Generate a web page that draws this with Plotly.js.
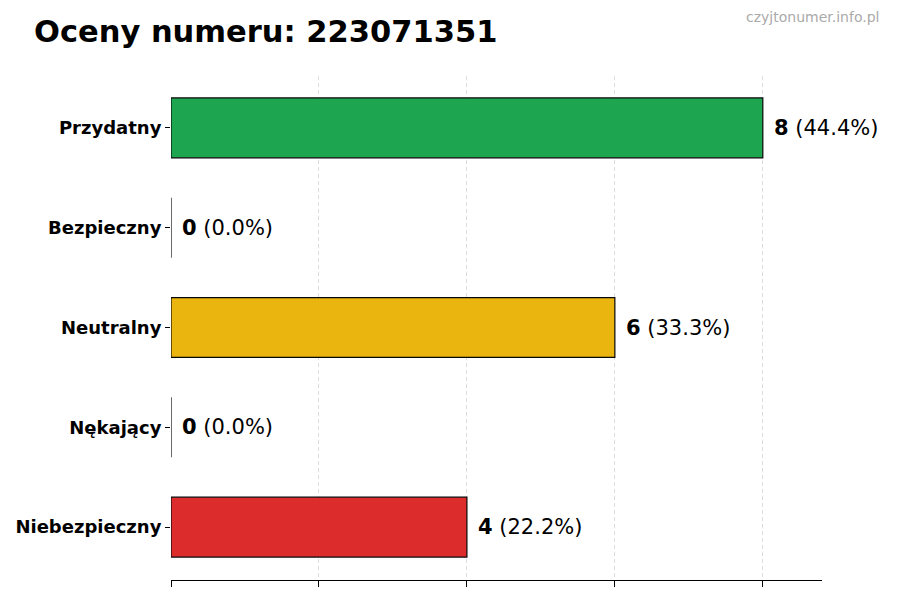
<!DOCTYPE html>
<html>
<head>
<meta charset="utf-8">
<script src="https://cdn.plot.ly/plotly-3.0.1.min.js"></script>
<style>html,body{margin:0;padding:0;background:#fff;}#chart{width:900px;height:600px;}</style>
</head>
<body>
<div id="chart"></div>
<script>
const categories = ["Przydatny", "Bezpieczny", "Neutralny", "Nękający", "Niebezpieczny"];
const counts = [8, 0, 6, 0, 4];
const percents = ["44.4%", "0.0%", "33.3%", "0.0%", "22.2%"];
const colors = ["#16a34a", "#22c55e", "#eab308", "#f97316", "#dc2626"];
const titleText = "Oceny numeru: 223071351";
const watermark = "czyjtonumer.info.pl";

const font = "DejaVu Sans, sans-serif";

const trace = {
  type: "bar",
  orientation: "h",
  x: counts,
  y: categories,
  width: 0.6,
  marker: { color: colors, opacity: 0.97, line: { color: "#000", width: 1.2 } },
  hoverinfo: "skip"
};

const annotations = categories.map((c, i) => ({
  x: counts[i], y: c, xref: "x", yref: "y",
  text: "<b>" + counts[i] + "</b> (" + percents[i] + ")",
  showarrow: false, xanchor: "left", yanchor: "middle", xshift: 9,
  font: { family: font, size: 21, color: "#000" }
}));
const W = 900, H = 600, L = 171, R = 78, T = 76, B = 20;
annotations.push({
  x: (881 - L) / (W - L - R), y: (H - B - 17) / (H - T - B), xref: "paper", yref: "paper",
  text: watermark, showarrow: false,
  xanchor: "right", yanchor: "middle", font: { family: font, size: 14, color: "#aaa" }
});

const layout = {
  width: W, height: H,
  margin: { l: L, r: R, t: T, b: B },
  paper_bgcolor: "#fff", plot_bgcolor: "#fff",
  title: { text: "<b>" + titleText + "</b>", x: 34 / W, xanchor: "left", y: 1 - 31 / H, yanchor: "middle",
           font: { family: font, size: 30.5, color: "#000" } },
  showlegend: false,
  xaxis: {
    range: [0, 8.8], showgrid: true, gridcolor: "#dedede", griddash: "4px,3px", gridwidth: 1,
    dtick: 2, tick0: 0, showticklabels: false, ticks: "outside", ticklen: 6, tickcolor: "#000",
    showline: true, linecolor: "#000", linewidth: 1, zeroline: false, fixedrange: true
  },
  yaxis: {
    categoryorder: "array", categoryarray: categories.slice().reverse(),
    range: [-0.53, 4.52], autorange: false, showgrid: false, zeroline: false, showline: false,
    ticks: "outside", ticklen: 5, tickcolor: "#000",
    tickfont: { family: font, size: 18, color: "#000", weight: "bold" }, fixedrange: true
  },
  annotations: annotations
};

Plotly.newPlot("chart", [trace], layout, { displayModeBar: false, staticPlot: true });
</script>
</body>
</html>
